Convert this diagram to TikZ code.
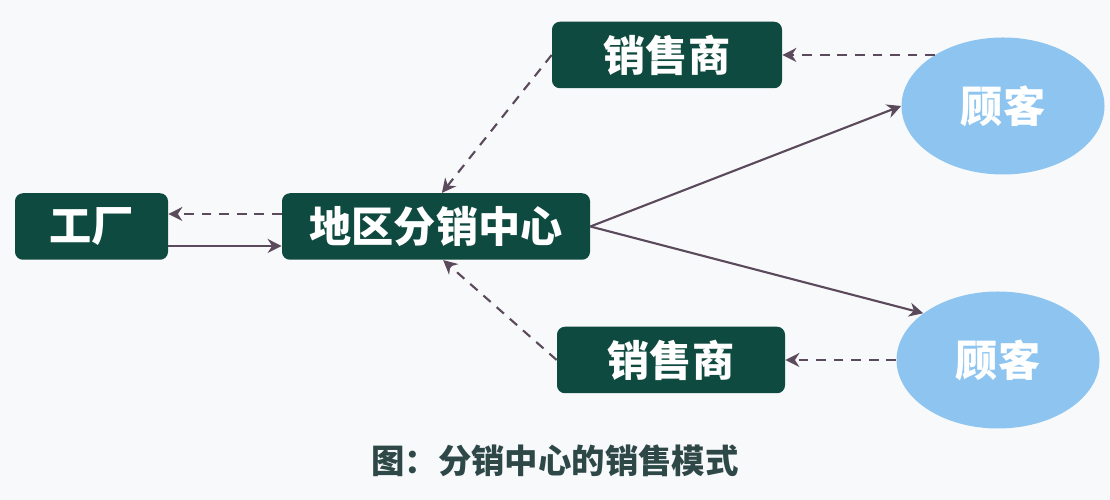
\documentclass[tikz,border=0pt]{standalone}
\usepackage{fontspec}
\usepackage{xcolor}
\usepackage{tikz}
\usetikzlibrary{shapes.geometric, arrows.meta, positioning, calc}
\newfontfamily\cjk{Noto Sans CJK SC}
\definecolor{boxgreen}{HTML}{0E4A3F}
\definecolor{skyblue}{HTML}{8DC5F0}
\definecolor{arrowgray}{HTML}{5A4A5C}
\definecolor{captiongray}{HTML}{2E4848}
\definecolor{paper}{HTML}{F8F9FB}

\begin{document}
\begin{tikzpicture}[
    node distance=0.8cm,
    box/.style={rectangle, rounded corners=4.5pt, fill=boxgreen, text=white, minimum height=1.33cm, align=center, font=\cjk\bfseries\fontsize{24}{28}\selectfont},
    customer/.style={ellipse, fill=skyblue, text=white, minimum width=4.06cm, minimum height=2.74cm, inner sep=0pt, font=\cjk\bfseries\fontsize{24}{28}\selectfont},
    flow/.style={arrowgray, line width=1.2pt, -{Stealth[length=8pt, width=8pt]}},
    back/.style={flow, dash pattern=on 5.5pt off 4.5pt},
]

% Canvas
\fill[paper] (0,0) rectangle (22.2,10);
\useasboundingbox (0,0) rectangle (22.2,10);

% Factory and distribution centre
\node[box, minimum width=3.06cm] (factory) at (1.83,5.47) {工厂};
\node[box, minimum width=6.16cm] (center) at (8.72,5.47) {地区分销中心};

% Dealers
\node[box, minimum width=4.6cm] (dealerA) at (13.34,8.9) {销售商};
\node[box, minimum width=4.56cm] (dealerB) at (13.42,2.8) {销售商};

% Customers
\node[customer] (custA) at (20.06,7.88) {顾客};
\node[customer] (custB) at (19.96,2.8) {顾客};

% Caption
\node[font=\cjk\bfseries\fontsize{19}{22}\selectfont, text=captiongray] (caption) at (11.1,0.78) {图：分销中心的销售模式};

% Arrows
\draw[back] ([yshift=0.25cm]center.west) -- ([yshift=0.25cm]factory.east);
\draw[flow] ([yshift=-0.39cm]factory.east) -- ([yshift=-0.39cm]center.west);
\draw[back] (dealerA.west) -- (center.80);
\draw[back] (dealerB.west) -- (center.-78);
\draw[flow] (center.east) -- (custA.west);
\draw[flow] (center.east) -- (custB.148);
\draw[back] (custA.143 |- dealerA.east) -- (dealerA.east);
\draw[back] (custB.west) -- (dealerB.east);

\end{tikzpicture}
\end{document}
